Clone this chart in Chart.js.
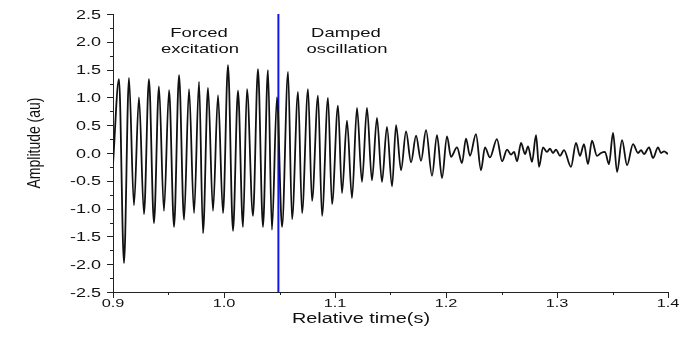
<!DOCTYPE html>
<html>
<head>
<meta charset="utf-8">
<script src="https://cdn.jsdelivr.net/npm/chart.js@4.4.1/dist/chart.umd.min.js"></script>
<style>
    html, body { margin: 0; padding: 0; background: #fff; }
    #box { width: 687px; height: 337px; }
</style>
</head>
<body>
<div id="box"><canvas id="signal-chart"></canvas></div>
<script>
// Tempos (s) e amplitudes
const times = [
    0.9000, 0.9054, 0.9099, 0.9144, 0.9189, 0.9234, 0.9279, 0.9324, 0.9369, 0.9414,
    0.9459, 0.9505, 0.9550, 0.9595, 0.9640, 0.9685, 0.9730, 0.9775, 0.9811, 0.9856,
    0.9901, 0.9946, 0.9991, 1.0036, 1.0081, 1.0126, 1.0171, 1.0207, 1.0261, 1.0306,
    1.0351, 1.0396, 1.0432, 1.0477, 1.0523, 1.0577, 1.0613, 1.0667, 1.0703, 1.0757,
    1.0793, 1.0847, 1.0883, 1.0937, 1.0973, 1.1027, 1.1063, 1.1108, 1.1153, 1.1198,
    1.1243, 1.1288, 1.1333, 1.1378, 1.1423, 1.1468, 1.1514, 1.1550, 1.1595, 1.1640,
    1.1685, 1.1730, 1.1775, 1.1820, 1.1874, 1.1919, 1.1964, 1.2009, 1.2045, 1.2099,
    1.2144, 1.2180, 1.2216, 1.2270, 1.2315, 1.2351, 1.2396, 1.2459, 1.2505, 1.2550,
    1.2586, 1.2613, 1.2640, 1.2676, 1.2712, 1.2739, 1.2775, 1.2811, 1.2838, 1.2874,
    1.2910, 1.2937, 1.2964, 1.2991, 1.3027, 1.3063, 1.3126, 1.3171, 1.3207, 1.3243,
    1.3279, 1.3315, 1.3360, 1.3396, 1.3432, 1.3468, 1.3505, 1.3541, 1.3586, 1.3631,
    1.3685, 1.3730, 1.3757, 1.3784, 1.3829, 1.3865, 1.3910, 1.3937, 1.3964, 1.4000
];
const amplitudes = [
    -0.20, 1.33, -1.98, 1.35, -0.94, 1.00, -1.10, 1.33, -1.26, 1.20,
    -1.04, 1.13, -1.33, 1.40, -1.20, 1.15, -1.08, 1.28, -1.44, 1.17,
    -1.04, 1.04, -1.08, 1.58, -1.40, 1.12, -1.33, 1.15, -1.13, 1.51,
    -1.33, 1.49, -1.38, 1.00, -1.33, 1.46, -1.19, 1.10, -1.08, 1.15,
    -0.86, 1.03, -1.13, 0.99, -0.92, 0.85, -0.72, 0.58, -0.81, 0.81,
    -0.52, 0.81, -0.49, 0.63, -0.52, 0.47, -0.60, 0.50, -0.31, 0.39,
    -0.17, 0.31, -0.14, 0.41, -0.41, 0.32, -0.45, 0.30, -0.07, 0.10,
    -0.18, 0.26, -0.05, 0.34, -0.31, 0.10, -0.08, 0.25, -0.15, 0.06,
    -0.03, 0.02, -0.15, 0.18, -0.02, 0.12, -0.16, 0.32, -0.25, 0.10,
    0.02, 0.08, 0.00, 0.06, -0.05, 0.05, -0.25, 0.18, -0.05, 0.16,
    -0.20, 0.22, -0.05, 0.00, 0.02, -0.20, 0.36, -0.34, 0.23, -0.22,
    0.16, 0.00, 0.05, -0.02, 0.10, -0.09, 0.10, 0.00, 0.03, -0.02
];

// Linha azul que separa as duas fases
const markerTime = 1.049;

// Marcas dos eixos
const xTicks = [0.9, 1.0, 1.1, 1.2, 1.3, 1.4];
const xMinorTicks = [0.95, 1.05, 1.15, 1.25, 1.35];
const yTicks = [-2.5, -2.0, -1.5, -1.0, -0.5, 0.0, 0.5, 1.0, 1.5, 2.0, 2.5];
const yMinorTicks = [-2.25, -1.75, -1.25, -0.75, -0.25, 0.25, 0.75, 1.25, 1.75, 2.25];

const xMin = 0.9, xMax = 1.4, yMin = -2.5, yMax = 2.5;

const signalPoints = times.map(function (t, i) {
    return { x: t, y: amplitudes[i] };
});

const textColor = '#111';
const fontName = '"Liberation Sans", Arial, sans-serif';
const stretch = 1.42; // o texto original é mais largo

function wideText(ctx, text, x, y, size, align, sx) {
    ctx.save();
    ctx.translate(x, y);
    ctx.scale(sx || stretch, 1);
    ctx.font = size + 'px ' + fontName;
    ctx.fillStyle = textColor;
    ctx.textAlign = align;
    ctx.textBaseline = 'alphabetic';
    ctx.fillText(text, 0, 0);
    ctx.restore();
}

// Desenha marcas, rótulos e textos
const decorations = {
    id: 'decorations',
    afterDraw: function (chart) {
        const ctx = chart.ctx;
        const xs = chart.scales.x;
        const ys = chart.scales.y;
        const area = chart.chartArea;

        ctx.save();
        ctx.strokeStyle = '#222';
        ctx.lineWidth = 1;
        ctx.beginPath();
        yTicks.forEach(function (v) {
            const py = Math.round(ys.getPixelForValue(v)) + 0.5;
            ctx.moveTo(area.left - 6, py);
            ctx.lineTo(area.left, py);
        });
        yMinorTicks.forEach(function (v) {
            const py = Math.round(ys.getPixelForValue(v)) + 0.5;
            ctx.moveTo(area.left - 3, py);
            ctx.lineTo(area.left, py);
        });
        xTicks.forEach(function (v) {
            const px = Math.round(xs.getPixelForValue(v)) + 0.5;
            ctx.moveTo(px, area.bottom);
            ctx.lineTo(px, area.bottom + 6);
        });
        xMinorTicks.forEach(function (v) {
            const px = Math.round(xs.getPixelForValue(v)) + 0.5;
            ctx.moveTo(px, area.bottom);
            ctx.lineTo(px, area.bottom + 3);
        });
        ctx.stroke();
        ctx.restore();

        yTicks.forEach(function (v) {
            wideText(ctx, v.toFixed(1), area.left - 12, ys.getPixelForValue(v) + 4.5, 12, 'right', 1.5);
        });
        xTicks.forEach(function (v) {
            wideText(ctx, v.toFixed(1), xs.getPixelForValue(v), area.bottom + 15, 11.5, 'center');
        });

        // Títulos dos eixos
        wideText(ctx, 'Relative time(s)', 361, 323, 14, 'center');
        ctx.save();
        ctx.translate(40, 143);
        ctx.rotate(-Math.PI / 2);
        ctx.scale(1, 1.3);
        ctx.font = '14px ' + fontName;
        ctx.fillStyle = textColor;
        ctx.textAlign = 'center';
        ctx.fillText('Amplitude (au)', 0, 0);
        ctx.restore();

        // Anotações
        wideText(ctx, 'Forced', 199, 37, 13, 'center');
        wideText(ctx, 'excitation', 200, 53, 13, 'center');
        wideText(ctx, 'Damped', 346, 37, 13, 'center');
        wideText(ctx, 'oscillation', 347, 53, 13, 'center');
    }
};

const signalChart = document.getElementById('signal-chart');

new Chart(signalChart, {
    type: 'line',
    data: {
        datasets: [{
            label: 'Sinal',
            data: signalPoints,
            borderColor: '#111',
            borderWidth: 1.8,
            pointRadius: 0,
            cubicInterpolationMode: 'monotone',
            fill: false
        },
        {
            label: 'Divisão',
            data: [{ x: markerTime, y: yMin }, { x: markerTime, y: yMax }],
            borderColor: '#1414e6',
            borderWidth: 2,
            pointRadius: 0,
            fill: false
        }]
    },
    options: {
        responsive: true,
        maintainAspectRatio: false,
        animation: false,
        layout: {
            padding: { left: 0, right: 19, top: 14, bottom: 0 }
        },
        plugins: {
            legend: { display: false },
            tooltip: { enabled: false }
        },
        scales: {
            x: {
                type: 'linear',
                min: xMin,
                max: xMax,
                grid: { display: false, drawTicks: false },
                border: { display: true, color: '#222', width: 1 },
                ticks: { display: false },
                afterFit: function (scale) { scale.height = 45; }
            },
            y: {
                type: 'linear',
                min: yMin,
                max: yMax,
                grid: { display: false, drawTicks: false },
                border: { display: true, color: '#222', width: 1 },
                ticks: { display: false },
                afterFit: function (scale) { scale.width = 113; }
            }
        }
    },
    plugins: [decorations]
});
</script>
</body>
</html>
